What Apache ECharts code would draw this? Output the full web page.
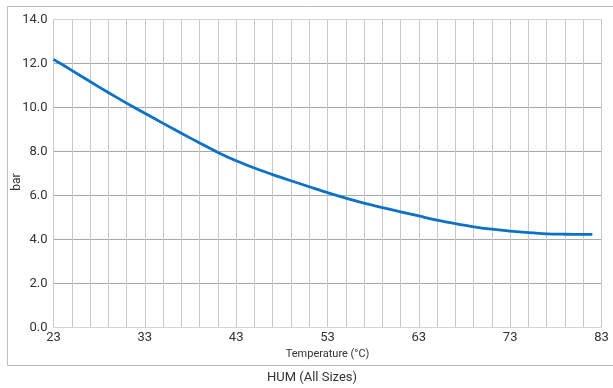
<!DOCTYPE html>
<html>
<head>
<meta charset="utf-8">
<script src="https://cdn.jsdelivr.net/npm/echarts@6/dist/echarts.min.js"></script>
<style>html,body{margin:0;padding:0;background:#fff;}#c{width:613px;height:388px;}</style>
</head>
<body>
<div id="c"></div>
<script>
const temperatures = [23,25,27,29,31,33,35,37,39,41,43,45,47,49,51,53,55,57,59,61,63,65,67,69,71,73,75,77,79,81,82];
const pressures = [12.18,11.68,11.17,10.67,10.19,9.73,9.27,8.82,8.38,7.95,7.57,7.24,6.94,6.66,6.39,6.12,5.87,5.64,5.44,5.25,5.06,4.87,4.71,4.57,4.46,4.37,4.30,4.25,4.23,4.22,4.22];
const xLabelValues = [23,33,43,53,63,73,83];
const chartTitle = 'HUM (All Sizes)';
const xName = 'Temperature (°C)';
const yName = 'bar';

const font = 'Roboto, "DejaVu Sans", sans-serif';
const chart = echarts.init(document.getElementById('c'));
const yLineColors = ['#d4d4d4','#a8a8a8','#a8a8a8','#a8a8a8','#a8a8a8','#a8a8a8','#a8a8a8','#d4d4d4'];
chart.setOption({
  animation: false,
  textStyle: {fontFamily: font},
  graphic: [
    {type: 'rect', shape: {x: 7.5, y: 6.5, width: 620, height: 359}, style: {fill: 'none', stroke: '#bdbdbd', lineWidth: 1}, silent: true, z: -1},
    {type: 'text', x: 312, y: 378, style: {text: chartTitle, fill: '#333', font: '13px ' + font, textAlign: 'center', textVerticalAlign: 'middle'}},
    {type: 'text', x: 17, y: 182, rotation: Math.PI / 2, style: {text: yName, fill: '#333', font: '12px ' + font, textAlign: 'center', textVerticalAlign: 'middle'}}
  ],
  grid: {left: 53.5, right: 11.5, top: 19.3, bottom: 60.7, containLabel: false, outerBoundsMode: 'none'},
  xAxis: {
    type: 'value', min: 23, max: 83, interval: 1,
    name: xName, nameLocation: 'middle', nameGap: 21,
    nameTextStyle: {fontSize: 11, color: '#333'},
    axisLine: {show: false}, axisTick: {show: false},
    axisLabel: {
      fontSize: 13, color: '#333', margin: 4, showMinLabel: true, showMaxLabel: true,
      formatter: v => xLabelValues.indexOf(Math.round(v)) >= 0 ? String(Math.round(v)) : ''
    },
    splitLine: {show: true, lineStyle: {color: ['#c8c8c8', 'rgba(0,0,0,0)'], width: 1}}
  },
  yAxis: {
    type: 'value', min: 0, max: 14, interval: 2,
    axisLine: {show: false}, axisTick: {show: false},
    axisLabel: {fontSize: 13, color: '#333', margin: 6, formatter: v => v.toFixed(1)},
    splitLine: {show: true, lineStyle: {color: yLineColors, width: 1}}
  },
  series: [{
    type: 'line',
    data: temperatures.map((t, i) => [t, pressures[i]]),
    smooth: 0.3, showSymbol: false,
    lineStyle: {color: '#0b72c8', width: 2.8},
    z: 5
  }]
});
</script>
</body>
</html>
